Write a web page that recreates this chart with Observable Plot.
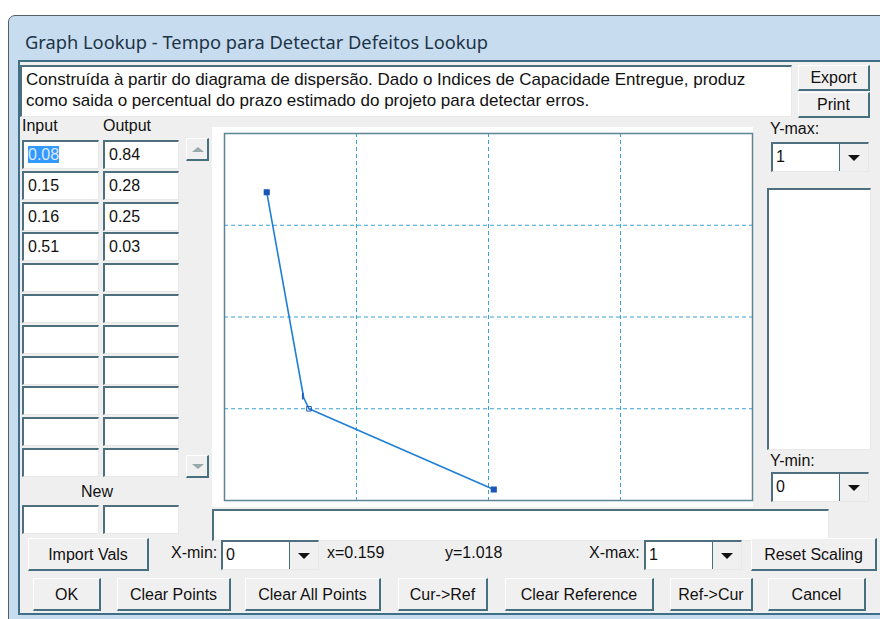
<!DOCTYPE html>
<html><head><meta charset="utf-8">
<script src="https://cdn.jsdelivr.net/npm/d3@7"></script>
<script src="https://cdn.jsdelivr.net/npm/@observablehq/plot@0.6"></script>
<style>
html,body{margin:0;padding:0;background:#fff;}
body{width:880px;height:619px;position:relative;overflow:hidden;font-family:"Liberation Sans",Arial,sans-serif;font-size:16px;color:#111;}
.abs{position:absolute;box-sizing:border-box;}
#win{left:8px;top:15px;width:880px;height:610px;background:#c8dcef;border:1px solid #555f66;border-radius:7px 7px 0 0;}
#title{left:25px;top:29px;font-family:"Noto Sans","Open Sans",sans-serif;font-size:18.3px;color:#1c3548;white-space:nowrap;}
#client{left:18px;top:60px;width:870px;height:554px;background:#f0efef;border-top:2px solid #3f6f86;border-left:2px solid #3f6f86;}
.sunk{background:#fff;border-top:2px solid #4d6f7e;border-left:2px solid #4d6f7e;border-right:1px solid #e8e8e8;border-bottom:1px solid #e8e8e8;}
.btn{background:#f1f0f0;border-right:2px solid #46707f;border-bottom:2px solid #46707f;border-top:1px solid #fff;border-left:1px solid #fff;text-align:center;white-space:nowrap;}
.lbl{white-space:nowrap;}
.cell{padding-left:4px;line-height:26px;}
.arrow{background:#f1f0f0;border-right:2px solid #46707f;border-bottom:2px solid #46707f;border-top:1px solid #fff;border-left:1px solid #fff;}
.combo .dd{position:absolute;right:0;top:0;width:28px;height:100%;background:#f1f0f0;border-left:1px solid #46707f;}
.tri{position:absolute;width:0;height:0;border-left:6px solid transparent;border-right:6px solid transparent;border-top:6px solid #111;}
.tri.up{border-top:none;border-bottom:5px solid #9aa;}
.tri.dn{border-top:5px solid #9aa;}
</style></head>
<body>
<div id="win" class="abs"></div>
<div id="title" class="abs"></div>
<div id="client" class="abs"></div>
<div id="ui"></div>
<div id="chart" class="abs" style="left:212px;top:127px;width:541px;height:380px;background:#fff;"></div>
<script>
// ---- data ----
const inputs = [0.08, 0.15, 0.16, 0.51];
const outputs = [0.84, 0.28, 0.25, 0.03];
const xGrid = [0.25, 0.5, 0.75];
const yGrid = [0.25, 0.5, 0.75];
const xDomain = [0, 1];
const yDomain = [0, 1];
const titleText = "Graph Lookup - Tempo para Detectar Defeitos Lookup";
const descLines = [
  "Construída à partir do diagrama de dispersão. Dado o Indices de Capacidade Entregue, produz",
  "como saida o percentual do prazo estimado do projeto para detectar erros."
];
const buttonLabels = ["OK","Clear Points","Clear All Points","Cur->Ref","Clear Reference","Ref->Cur","Cancel"];

const pts = inputs.map((x,i)=>({x, y: outputs[i], i}));
document.getElementById("title").textContent = titleText;

// ---- UI (HTML) ----
const ui = document.getElementById("ui");
function el(cls, css, html){const d=document.createElement("div");d.className="abs "+cls;Object.assign(d.style,css);if(html!==undefined)d.innerHTML=html;ui.appendChild(d);return d;}
function px(v){return v+"px";}
// description
el("sunk",{left:px(20),top:px(65),width:px(772),height:px(52),padding:"2px 0 0 4px",lineHeight:"21px",whiteSpace:"nowrap",fontSize:"17px"}, descLines.join("<br>"));
el("btn",{left:px(798),top:px(65),width:px(72),height:px(26),lineHeight:"24px"},"Export");
el("btn",{left:px(798),top:px(92),width:px(72),height:px(26),lineHeight:"24px"},"Print");
el("lbl",{left:px(22),top:px(117)},"Input");
el("lbl",{left:px(103),top:px(117)},"Output");
const rowTop=140, rowH=30.8;
for(let r=0;r<11;r++){
  const t=rowTop+r*rowH;
  const a=el("sunk cell",{left:px(22),top:px(t),width:px(77),height:px(29)}, r<inputs.length?String(inputs[r]):"");
  el("sunk cell",{left:px(103),top:px(t),width:px(76),height:px(29)}, r<outputs.length?String(outputs[r]):"");
  if(r===0){a.innerHTML='<span style="background:#3399ff;color:#dbe9ff">'+inputs[0]+'</span>';}
}
const up=el("arrow",{left:px(186),top:px(138),width:px(23),height:px(23)});
up.innerHTML='<div class="tri up" style="left:5px;top:8px"></div>';
const dn=el("arrow",{left:px(186),top:px(455),width:px(23),height:px(23)});
dn.innerHTML='<div class="tri dn" style="left:5px;top:8px;border-bottom:none;border-top:5px solid #9aa"></div>';
el("lbl",{left:px(81),top:px(483)},"New");
el("sunk",{left:px(22),top:px(505),width:px(77),height:px(29)});
el("sunk",{left:px(103),top:px(505),width:px(76),height:px(29)});
// right side
el("lbl",{left:px(770),top:px(120)},"Y-max:");
function combo(l,t,w,val){const c=el("sunk combo",{left:px(l),top:px(t),width:px(w),height:px(30),paddingLeft:"3px",lineHeight:"26px"},val+'<div class="dd"><div class="tri" style="left:8px;top:11px"></div></div>');return c;}
combo(771,142,98,"1");
el("sunk",{left:px(767),top:px(188),width:px(104),height:px(262)});
el("lbl",{left:px(770),top:px(452)},"Y-min:");
combo(771,472,98,"0");
// bottom
el("sunk",{left:px(212),top:px(509),width:px(617),height:px(32)});
el("btn",{left:px(28),top:px(538),width:px(121),height:px(33),lineHeight:"31px"},"Import Vals");
el("lbl",{left:px(171),top:px(544)},"X-min:");
combo(221,540,98,"0");
el("lbl",{left:px(327),top:px(544)},"x=0.159");
el("lbl",{left:px(445),top:px(544)},"y=1.018");
el("lbl",{left:px(589),top:px(544)},"X-max:");
combo(644,540,98,"1");
el("btn",{left:px(751),top:px(538),width:px(126),height:px(33),lineHeight:"31px"},"Reset Scaling");
const bpos=[[33,68],[117,114],[245,136],[398,90],[505,149],[670,83],[768,98]];
buttonLabels.forEach((b,i)=>el("btn",{left:px(bpos[i][0]),top:px(578),width:px(bpos[i][1]),height:px(33),lineHeight:"31px"},b));
// bottom frame
el("",{left:px(18),top:px(613),width:px(870),height:px(6),background:"#c8dcef",borderTop:"2px solid #3f6f86"});

// ---- chart (Plot) ----
const lineColor = "#1f7fd6";
const gridColor = "#3aa2d6";
const markColor = "#1a55b8";
const chart = Plot.plot({
  width: 541, height: 380,
  marginLeft: 12, marginRight: 1, marginTop: 6, marginBottom: 7,
  x: {type: "linear", domain: xDomain, axis: null},
  y: {type: "linear", domain: yDomain, axis: null},
  style: {background: "#fff", overflow: "visible"},
  marks: [
    Plot.ruleX(xGrid, {stroke: gridColor, strokeDasharray: "4,3", strokeWidth: 1}),
    Plot.ruleY(yGrid, {stroke: gridColor, strokeDasharray: "4,3", strokeWidth: 1}),
    Plot.frame({stroke: "#5d8595", strokeWidth: 1.5}),
    Plot.line(pts, {x: "x", y: "y", stroke: lineColor, strokeWidth: 1.6}),
    Plot.dot(pts.filter(d=>d.i===0||d.i===pts.length-1), {x:"x", y:"y", symbol:"square", r:2.6, fill:markColor, stroke:markColor}),
    Plot.dot(pts.filter(d=>d.i===2), {x:"x", y:"y", symbol:"square", r:2.6, fill:"none", stroke:markColor, strokeWidth:1}),
    Plot.ruleX(pts.filter(d=>d.i===1), {x:"x", y1: d=>d.y-0.006, y2: d=>d.y+0.012, dx:-1, stroke:markColor, strokeWidth:1.5})
  ]
});
document.getElementById("chart").appendChild(chart);
</script>
</body></html>
